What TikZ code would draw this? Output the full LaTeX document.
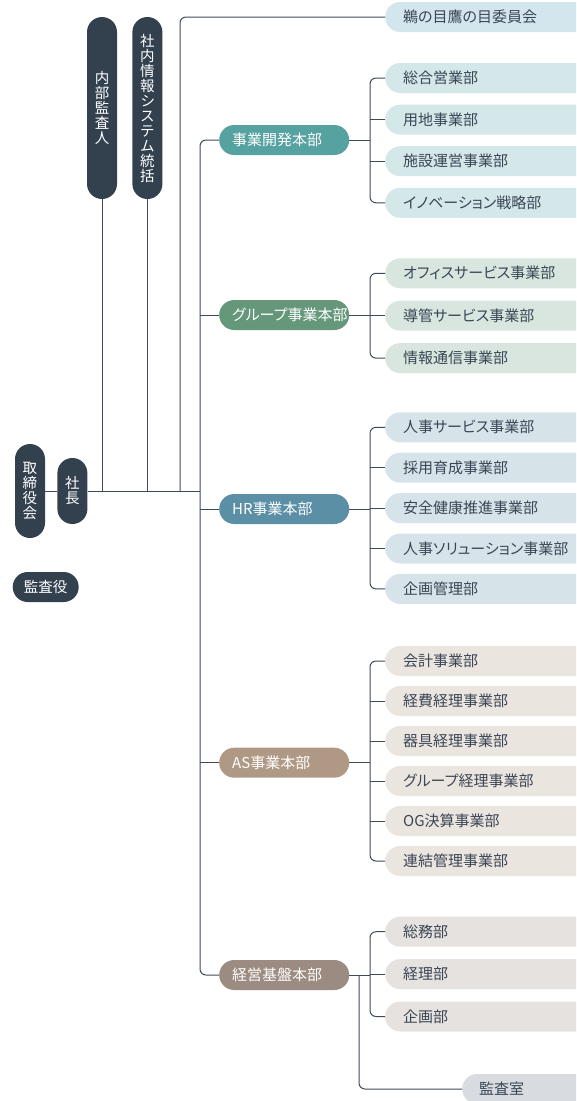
\documentclass[tikz,border=0pt]{standalone}
\usepackage{fontspec}
\setmainfont{Noto Sans CJK JP}[RawFeature=+palt]
\usetikzlibrary{positioning}

\definecolor{navy}{HTML}{33414F}
\definecolor{linec}{HTML}{3E4A59}
\definecolor{textc}{HTML}{3A4654}
\definecolor{jigyoc}{HTML}{56A2A1}
\definecolor{groupc}{HTML}{65977B}
\definecolor{hrc}{HTML}{5A8FA6}
\definecolor{asc}{HTML}{AF9984}
\definecolor{keieic}{HTML}{9B8B80}
\definecolor{unomec}{HTML}{D3E6EE}
\definecolor{jigyosub}{HTML}{D4E7E9}
\definecolor{groupsub}{HTML}{D9E6DF}
\definecolor{hrsub}{HTML}{D6E3E9}
\definecolor{assub}{HTML}{EBE5E0}
\definecolor{keieisub}{HTML}{E6E2DF}
\definecolor{kansac}{HTML}{D8DCE1}

\tikzset{
  lead/.style={draw=linec, line width=1pt},
  officer/.style={fill=navy, text=white, rounded corners=15pt, minimum width=30pt,
    inner sep=0pt, align=center, font=\fontsize{14.5}{15}\selectfont},
  honbu/.style={rounded corners=15pt, minimum height=30pt, text width=104pt,
    inner xsep=13pt, inner ysep=0pt, align=left, text=white, font=\fontsize{15}{18}\selectfont},
  bu/.style={rounded corners=15pt, minimum height=30pt, text width=179pt,
    inner xsep=18pt, inner ysep=0pt, align=left, text=textc, font=\fontsize{15}{18}\selectfont},
}

\begin{document}
\begin{tikzpicture}[x=1pt, y=1pt]

\useasboundingbox (0,0) rectangle (576,-1101);
\clip (0,0) rectangle (576,-1101);

% top
\node[officer, minimum height=94pt] (torishimari) at (30,-491) {取\\締\\役\\会};
\node[officer, minimum height=66pt, right=12pt of torishimari] (shacho) {社\\長};
\node[officer, minimum width=66pt, minimum height=30pt] (kansayaku) at (45.7,-587) {監査役};
\node[officer, minimum height=182pt] (naibu) at (102,-108) {内\\部\\監\\査\\人};
\node[officer, minimum height=182pt, right=15pt of naibu] (joho) {社\\内\\情\\報\\シ\\ス\\テ\\ム\\統\\括};

\coordinate (trunk) at (200,-491);
\coordinate (unome-j) at (180,-491);

\draw[lead] (torishimari) -- (shacho);
\draw[lead] (shacho) -- (trunk);
\draw[lead] (naibu) -- (naibu |- shacho);
\draw[lead] (joho) -- (joho |- shacho);

\node[bu, fill=unomec, anchor=west] (unome) at (385,-17) {鵜の目鷹の目委員会};
\draw[lead, rounded corners=6pt] (unome-j) |- (unome.west);

% 事業開発本部
\node[honbu, fill=jigyoc, anchor=west] (jigyo) at (219,-140) {事業開発本部};
\node[bu, fill=jigyosub, anchor=west] (jigyo-1) at (385,-78) {総合営業部};
\node[bu, fill=jigyosub, below=11.2pt of jigyo-1] (jigyo-2) {用地事業部};
\node[bu, fill=jigyosub, below=11.2pt of jigyo-2] (jigyo-3) {施設運営事業部};
\node[bu, fill=jigyosub, below=11.2pt of jigyo-3] (jigyo-4) {イノベーション戦略部};
\coordinate (jigyo-bus) at (370,-140);
\draw[lead] (jigyo) -- (jigyo-bus);
\draw[lead, rounded corners=6pt] (jigyo-1.west) -| (jigyo-bus) |- (jigyo-4.west);
\draw[lead] (jigyo-2.west) -- (jigyo-2.west -| jigyo-bus);
\draw[lead] (jigyo-3.west) -- (jigyo-3.west -| jigyo-bus);

% グループ事業本部
\node[honbu, fill=groupc, anchor=west] (group) at (219,-315) {グループ事業本部};
\node[bu, fill=groupsub, anchor=west] (group-1) at (385,-273.3) {オフィスサービス事業部};
\node[bu, fill=groupsub, below=12pt of group-1] (group-2) {導管サービス事業部};
\node[bu, fill=groupsub, below=12pt of group-2] (group-3) {情報通信事業部};
\coordinate (group-bus) at (370,-315);
\draw[lead] (group) -- (group-bus);
\draw[lead, rounded corners=6pt] (group-1.west) -| (group-bus) |- (group-3.west);
\draw[lead] (group-2.west) -- (group-2.west -| group-bus);

% HR事業本部
\node[honbu, fill=hrc, anchor=west] (hr) at (219,-509) {HR事業本部};
\node[bu, fill=hrsub, anchor=west] (hr-1) at (385,-427.3) {人事サービス事業部};
\node[bu, fill=hrsub, below=10pt of hr-1] (hr-2) {採用育成事業部};
\node[bu, fill=hrsub, below=10pt of hr-2] (hr-3) {安全健康推進事業部};
\node[bu, fill=hrsub, below=10pt of hr-3] (hr-4) {人事ソリューション事業部};
\node[bu, fill=hrsub, below=10pt of hr-4] (hr-5) {企画管理部};
\coordinate (hr-bus) at (370,-509);
\draw[lead] (hr) -- (hr-bus);
\draw[lead, rounded corners=6pt] (hr-1.west) -| (hr-bus) |- (hr-5.west);
\draw[lead] (hr-2.west) -- (hr-2.west -| hr-bus);
\draw[lead] (hr-3.west) -- (hr-3.west -| hr-bus);
\draw[lead] (hr-4.west) -- (hr-4.west -| hr-bus);

% AS事業本部
\node[honbu, fill=asc, anchor=west] (as) at (219,-762.7) {AS事業本部};
\node[bu, fill=assub, anchor=west] (as-1) at (385,-661) {会計事業部};
\node[bu, fill=assub, below=9.6pt of as-1] (as-2) {経費経理事業部};
\node[bu, fill=assub, below=9.6pt of as-2] (as-3) {器具経理事業部};
\node[bu, fill=assub, below=9.6pt of as-3] (as-4) {グループ経理事業部};
\node[bu, fill=assub, below=9.6pt of as-4] (as-5) {OG決算事業部};
\node[bu, fill=assub, below=9.6pt of as-5] (as-6) {連結管理事業部};
\coordinate (as-bus) at (370,-762.7);
\draw[lead] (as) -- (as-bus);
\draw[lead, rounded corners=6pt] (as-1.west) -| (as-bus) |- (as-6.west);
\draw[lead] (as-2.west) -- (as-2.west -| as-bus);
\draw[lead] (as-3.west) -- (as-3.west -| as-bus);
\draw[lead] (as-4.west) -- (as-4.west -| as-bus);
\draw[lead] (as-5.west) -- (as-5.west -| as-bus);

% 経営基盤本部
\node[honbu, fill=keieic, anchor=west] (keiei) at (219,-975) {経営基盤本部};
\node[bu, fill=keieisub, anchor=west] (keiei-1) at (385,-931.7) {総務部};
\node[bu, fill=keieisub, below=12pt of keiei-1] (keiei-2) {経理部};
\node[bu, fill=keieisub, below=12pt of keiei-2] (keiei-3) {企画部};
\node[bu, fill=kansac, anchor=west, inner xsep=17pt] (kansa) at (462,-1089) {監査室};
\coordinate (keiei-bus) at (370,-975);
\coordinate (kansa-bus) at (359,-975);
\draw[lead] (keiei) -- (keiei-bus);
\draw[lead, rounded corners=6pt] (keiei-1.west) -| (keiei-bus) |- (keiei-3.west);
\draw[lead] (keiei-2.west) -- (keiei-2.west -| keiei-bus);
\draw[lead, rounded corners=6pt] (kansa-bus) |- (kansa.west);

% trunk
\draw[lead, rounded corners=6pt] (jigyo.west) -| (trunk) |- (keiei.west);
\draw[lead] (group.west) -- (group.west -| trunk);
\draw[lead] (hr.west) -- (hr.west -| trunk);
\draw[lead] (as.west) -- (as.west -| trunk);

\end{tikzpicture}
\end{document}
